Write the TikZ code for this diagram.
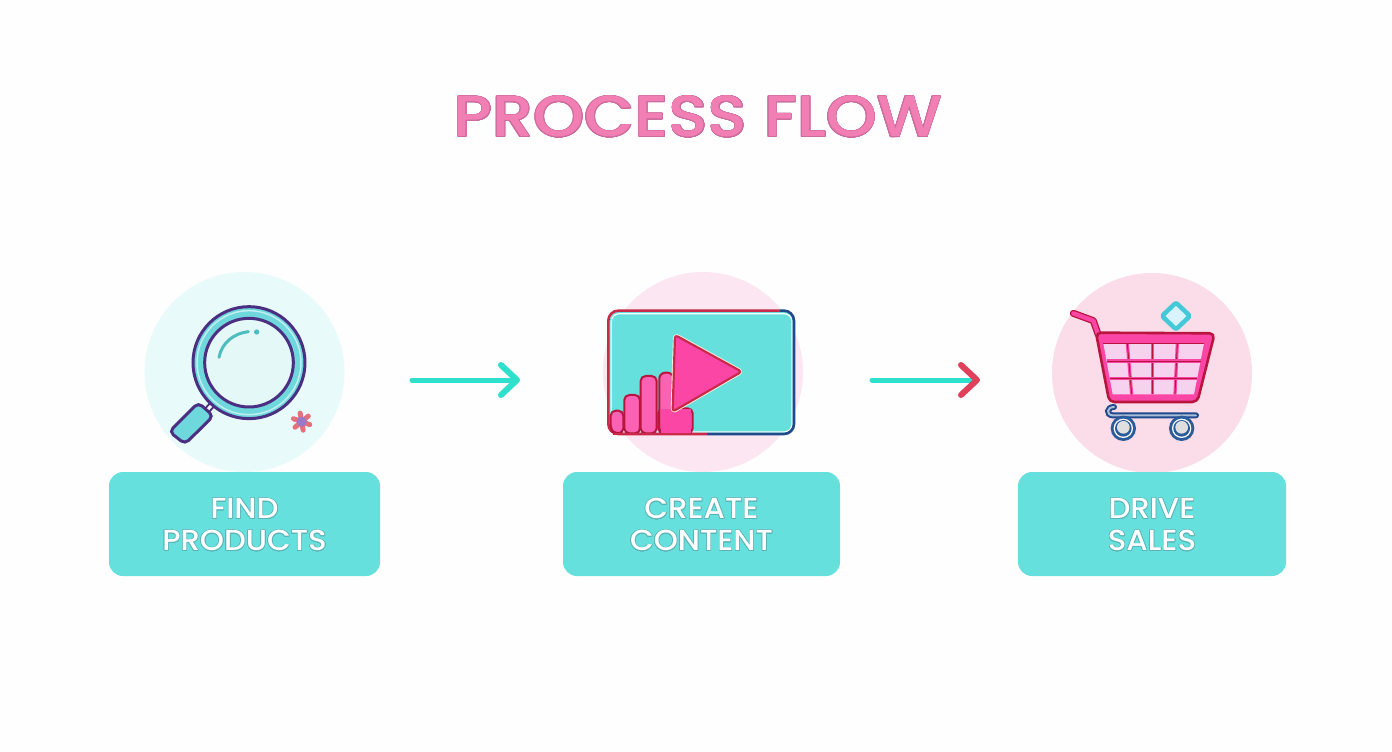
\documentclass[tikz,border=0pt]{standalone}
\usepackage{fontspec}
\usepackage{contour}
\setmainfont{Poppins}
\newfontfamily\titlefont[FakeStretch=1.12]{Poppins Medium}
\newfontfamily\boxfont[FakeStretch=1.06]{Poppins Medium}
\usetikzlibrary{calc}
\definecolor{bgc}{HTML}{FEFEFE}
\definecolor{tealbox}{HTML}{66E0DC}
\definecolor{tealdark}{HTML}{5BB4B8}
\definecolor{titlepink}{HTML}{F27FB4}
\definecolor{titleedge}{HTML}{CC6C9E}
\definecolor{paleteal}{HTML}{E9FAFA}
\definecolor{lensfill}{HTML}{E4F8F7}
\definecolor{palepink}{HTML}{FCE6F2}
\definecolor{cartpink}{HTML}{FBDCE9}
\definecolor{navy}{HTML}{4A2F82}
\definecolor{ringteal}{HTML}{6FD8DC}
\definecolor{arrowteal}{HTML}{2FE0CC}
\definecolor{arrowred}{HTML}{E0405A}
\definecolor{hotpink}{HTML}{FB46A6}
\definecolor{edgered}{HTML}{C92A4A}
\definecolor{edgenavy}{HTML}{1F4A8C}
\definecolor{cellpink}{HTML}{F6D2EE}
\definecolor{darkrose}{HTML}{B8153F}
\definecolor{wheelblue}{HTML}{2C5C9A}
\definecolor{diamondc}{HTML}{45C8D8}
\definecolor{starred}{HTML}{E4707C}
\definecolor{starviolet}{HTML}{9A78C8}
\tikzset{
  disc/.style={circle,minimum size=200pt,inner sep=0pt,draw=none},
  labelbox/.style={rounded corners=14pt,fill=tealbox,draw=none,inner sep=0pt,text=white,
    align=center,font=\boxfont\fontsize{29}{32}\selectfont},
  shaft/.style={line width=5pt,line cap=round,arrowteal},
  headstroke/.style={line width=6pt,line cap=round,line join=round},
  icon/.style={x=1pt,y=-1pt,scale=1/3},
  finger/.style={line width=2pt,draw=darkrose,fill=hotpink!85!white},
}
\contournumber{24}
\begin{document}
\begin{tikzpicture}[x=1pt,y=-1pt]
\useasboundingbox[fill=bgc] (0,0) rectangle (1392,752);

\node[text=titlepink,font=\titlefont\fontsize{58}{60}\selectfont,inner sep=0pt] (title) at (698,117)
  {\contourlength{0.6pt}\contour{titleedge}{PROCESS FLOW}};

\node[disc,fill=paleteal] (c1) at (244.5,372) {};
\node[disc,fill=palepink] (c2) at (703,372) {};
\node[disc,fill=cartpink] (c3) at (1152,373) {};

\contourlength{0.6pt}
\node[labelbox,minimum width=271pt,minimum height=104pt] (b1) at (244.5,524) {};
\node[labelbox,minimum width=277pt,minimum height=104pt] (b2) at (701.5,524) {};
\node[labelbox,minimum width=268pt,minimum height=104pt] (b3) at (1152,524) {};
\node[labelbox,fill=none] (t1) at (244.5,525)
  {\contour{tealdark}{FIND}\\\contour{tealdark}{PRODUCTS}};
\node[labelbox,fill=none] (t2) at (701.5,525)
  {\contour{tealdark}{CREATE}\\\contour{tealdark}{CONTENT}};
\node[labelbox,fill=none] (t3) at (1152,525)
  {\contour{tealdark}{DRIVE}\\\contour{tealdark}{SALES}};

% arrows
\coordinate (a1s) at (412,380); \coordinate (a1e) at (517,380);
\coordinate (a2s) at (872,380); \coordinate (a2e) at (977,380);
\draw[shaft] (a1s) -- (a1e);
\draw[headstroke,arrowteal] ($(a1e)+(-16,-15)$) -- (a1e) -- ($(a1e)+(-16,15)$);
\draw[shaft] (a2s) -- (a2e);
\draw[headstroke,arrowred] ($(a2e)+(-16,-15)$) -- (a2e) -- ($(a2e)+(-16,15)$);

% magnifier
\begin{scope}[icon,shift={(390,780)}]
  \draw[navy,line width=7pt] (232,450) -- (248,432);
  \draw[white,line width=3pt] (232,450) -- (248,432);
  \draw[navy,line width=3pt,fill=ringteal,rounded corners=5pt]
    (205,428) -- (250,468) -- (165,552) -- (118,515) -- cycle;
  \fill[ringteal] (357,308) circle (168);
  \draw[navy,line width=3pt] (357,308) circle (168);
  \draw[lensfill!70!ringteal,line width=1.5pt] (357,308) circle (156);
  \fill[lensfill] (357,308) circle (133);
  \draw[navy,line width=3pt] (357,308) circle (133);
  \draw[ringteal!70!teal,line width=3pt,line cap=round] (267,292) .. controls (275,250) and (310,220) .. (355,215);
  \fill[ringteal!70!teal] (380,216) circle (8);
  \foreach \a in {20,80,140,200,260,320}{
    \draw[starred,line width=5pt,line cap=round] (515,485) -- ++(\a:26);
  }
  \fill[starviolet] (515,485) circle (15);
\end{scope}

% video
\begin{scope}[icon,shift={(1770,780)}]
  \fill[tealbox,rounded corners=10pt] (58,155) rectangle (610,520);
  \draw[white,line width=1.2pt,rounded corners=8pt] (64,161) rectangle (606,516);
  \draw[edgenavy,line width=2.6pt,rounded corners=10pt] (570,152) -- (612,152) -- (612,522) -- (350,522);
  \draw[edgered,line width=2.6pt,rounded corners=10pt] (350,522) -- (55,522) -- (55,152) -- (570,152);
  \draw[finger,rounded corners=5pt] (205,520) -- (205,445) -- (308,445) -- (308,520) -- cycle;
  \draw[finger,rounded corners=6pt] (208,520) -- (208,338) -- (250,338) -- (250,520) -- cycle;
  \draw[finger,rounded corners=5pt] (152,520) -- (152,348) -- (200,348) -- (200,520) -- cycle;
  \draw[finger,rounded corners=5pt] (103,520) -- (103,405) -- (150,405) -- (150,520) -- cycle;
  \draw[finger,rounded corners=5pt] (62,510) -- (62,452) -- (100,452) -- (100,520) -- (75,520) -- cycle;
  \fill[hotpink] (212,447) rectangle (304,518);
  \draw[edgered,line width=2.6pt] (70,522) -- (350,522);
  \draw[orange!15!white,line width=4pt,line join=round,rounded corners=3pt]
     (255,225) -- (455,335) -- (248,455) -- cycle;
  \draw[draw=edgered,line width=2.2pt,line join=round,fill=hotpink,rounded corners=3pt]
     (255,225) -- (455,335) -- (248,455) -- cycle;
\end{scope}

% cart
\begin{scope}[icon,shift={(3120,780)}]
  \draw[darkrose,line width=7pt,line cap=round,line join=round] (100,160) -- (160,182) -- (175,225);
  \draw[hotpink,line width=4.4pt,line cap=round,line join=round] (100,160) -- (160,182) -- (175,225);
  \draw[draw=darkrose,fill=hotpink,line width=2.6pt,rounded corners=5pt,line join=round]
    (168,218) -- (524,220) -- (472,426) -- (208,426) -- cycle;
  \fill[cellpink] (190,250) -- (492,250) -- (462,403) -- (218,403) -- cycle;
  \foreach \t/\b in {262/275,338/338,412/405}{
    \draw[hotpink,line width=3.2pt] (\t,250) -- (\b,403);
    \draw[darkrose,line width=0.9pt] (\t,250) -- (\b,403);
  }
  \draw[hotpink,line width=3.2pt] (200,303) -- (482,303);
  \draw[darkrose,line width=0.9pt] (200,303) -- (482,303);
  \draw[hotpink,line width=3.2pt] (209,356) -- (472,356);
  \draw[darkrose,line width=0.9pt] (209,356) -- (472,356);
  \draw[darkrose,line width=1.2pt] (190,250) -- (492,250);
  % bottom rail
  \draw[edgenavy,line width=6pt,line cap=round] (222,441) .. controls (200,441) and (198,465) .. (218,466) -- (468,466);
  \draw[wheelblue!40!white,line width=2pt,line cap=round] (222,441) .. controls (200,441) and (198,465) .. (218,466) -- (468,466);
  \foreach \x in {250,425}{
    \fill[wheelblue] (\x,505) circle (38);
    \fill[white] (\x,505) circle (29);
    \fill[wheelblue] (\x,505) circle (25);
    \fill[gray!25] (\x,502) circle (19);
  }
  % diamond
  \draw[line width=4.5pt,draw=diamondc,fill=white!85!cyan,rounded corners=2pt,line join=round]
    (408,128) -- (450,168) -- (408,208) -- (366,168) -- cycle;
\end{scope}
\end{tikzpicture}
\end{document}
